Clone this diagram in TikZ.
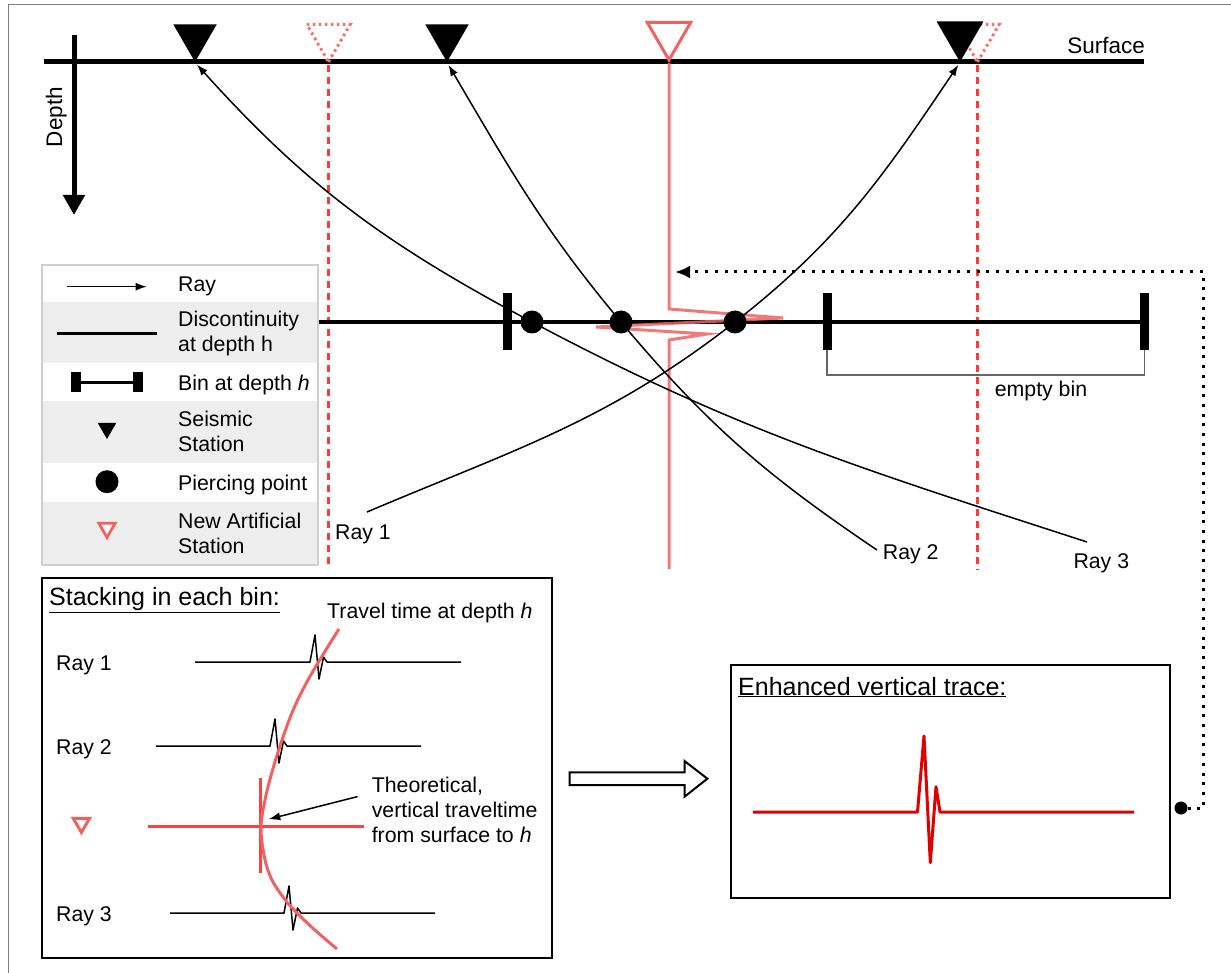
\documentclass[tikz,border=0pt]{standalone}
\usepackage{fontspec}
\setmainfont{Liberation Sans}
\usetikzlibrary{arrows.meta}
\usetikzlibrary{calc}
\usetikzlibrary{shapes.geometric}
\definecolor{salmon}{HTML}{F06262}
\definecolor{dashred}{HTML}{FF3838}
\definecolor{dotred}{HTML}{FF6B6B}
\definecolor{crossred}{HTML}{FF4040}
\definecolor{tracered}{HTML}{E00000}
\definecolor{rowgray}{HTML}{EEEEEE}
\definecolor{framegray}{HTML}{CFCFCF}
\newcommand{\figtxt}{\fontsize{21.3}{24.8}\selectfont}
\newcommand{\figttl}{\fontsize{25}{29}\selectfont}
\newcommand{\figsrf}{\fontsize{22.5}{26}\selectfont}
\tikzset{
	>=latex,
	lbl/.style={font=\figtxt, inner sep=0pt},
	ray/.style={line width=1.5pt, -{Latex[length=11pt,width=8pt]}},
	station/.style={regular polygon, regular polygon sides=3, shape border rotate=180, fill=black, minimum size=50pt, inner sep=0pt},
	newstation/.style={station, fill=white, draw=salmon, line width=3pt},
	ghost/.style={station, fill=none, draw=dotred, line width=3pt, dash pattern=on 2.5pt off 3.5pt},
	pierce/.style={circle, fill=black, minimum size=23pt, inner sep=0pt},
	binbar/.style={rectangle, fill=black, minimum width=9pt, minimum height=57pt, inner sep=0pt},
	vdash/.style={dashred, line width=3pt, dash pattern=on 7pt off 5pt},
	dotline/.style={line width=3pt, dash pattern=on 3pt off 6.7pt},
	wtrace/.style={line width=1.5pt, line join=round},
	boxframe/.style={draw, line width=2pt, inner sep=0pt, anchor=north west}
}
\begin{document}
\begin{tikzpicture}[x=1pt,y=1pt]
	%\draw[help lines] (0,0) grid (1231,-973);
	\useasboundingbox (0,0) rectangle (1231,-973);
	\draw[gray, line width=1pt] (8,-973) -- (8,-5) -- (1231,-5);

	% surface and depth
	\draw[line width=5pt] (43.5,-62) -- (1144,-62);
	\node[font=\figsrf, anchor=base east, inner sep=0pt] (surf) at (1145,-54) {Surface};
	\draw[line width=5pt, -{Triangle[length=20pt,width=21pt]}] (74,-35) -- (74,-215);
	\node[font=\figsrf, rotate=90, anchor=base, inner sep=0pt] (depth) at (62,-117) {Depth};

	% stations
	\node[ghost] (n1) at (328.5,-37) {};
	\node[ghost] (n2) at (977.5,-37) {};
	\draw[vdash] (n1.south) -- ++(0,-503);
	\draw[vdash] (n2.south) -- ++(0,-505);
	\node[station] (s1) at (195,-37) {};
	\node[station] (s2) at (447,-37) {};
	\node[station, minimum size=54pt] (s4) at (960,-35) {};
	\node[newstation] (ns) at (669,-35) {};

	% discontinuity and bins
	\draw[line width=4pt] (318,-322) -- (1147,-322);
	\node[binbar] (b1) at (507,-321.5) {};
	\node[binbar] (b2) at (827,-321.5) {};
	\node[binbar] (b3) at (1144.5,-321.5) {};
	\draw[black!60, line width=1.5pt] (b2.south) -- ++(0,-25) -| (b3.south);
	\node[lbl, anchor=base] (empty) at (1041,-396) {empty bin};

	\draw[salmon, line width=3pt, opacity=.85] (ns.south) -- (669,-309) -- (783,-318) -- (596,-327) -- (707,-334) -- (669,-340) -- (669,-569);

	% rays
	\node[pierce] (p1) at (532,-322) {};
	\node[pierce] (p2) at (621,-322) {};
	\node[pierce] (p3) at (735,-322) {};
	\coordinate (r1) at (367,-512);
	\coordinate (r2) at (877,-550);
	\coordinate (r3) at (1087,-542);
	\draw[ray, shorten >=3pt] (r1) to[out=23,in=-142] (p3.center) to[out=38,in=-124] (s4.south);
	\draw[ray, shorten >=3pt] (r2) to[out=146,in=-50] (p2.center) to[out=130,in=-59.5] (s2.south);
	\draw[ray, shorten >=3pt] (r3) to[out=162,in=-28] (p1.center) to[out=152,in=-48] (s1.south);
	\node[lbl, anchor=base west] (l1) at (335,-539.3) {Ray 1};
	\node[lbl, anchor=base west] (l2) at (882.7,-559.3) {Ray 2};
	\node[lbl, anchor=base west] (l3) at (1073.3,-568.3) {Ray 3};

	% legend
	\foreach \ya/\yb in {302/363, 401/463, 502/565}{
		\fill[rowgray] (42,-\ya) rectangle (318,-\yb);
	}
	\draw[framegray, line width=1.5pt] (42,-265) rectangle (318,-565);
	\draw[ray] (67,-286.7) -- (146.7,-286.7);
	\node[lbl, anchor=base west] (lg1) at (178,-291.7) {Ray};
	\draw[line width=3pt] (57,-334) -- (157,-334);
	\node[lbl, anchor=base west, align=left] (lg2) at (178,-351.7) {Discontinuity\\at depth h};
	\node[binbar, minimum width=10pt, minimum height=20pt] (lb1) at (75.7,-382) {};
	\node[binbar, minimum width=10pt, minimum height=20pt] (lb2) at (138,-382) {};
	\draw[line width=3pt] (lb1) -- (lb2);
	\node[lbl, anchor=base west] (lg3) at (178,-390) {Bin at depth \textit{h}};
	\node[station, minimum size=21.4pt] (ls) at (107,-428.3) {};
	\node[lbl, anchor=base west, align=left] (lg4) at (178,-451.7) {Seismic\\Station};
	\node[pierce] (lp) at (107,-481.7) {};
	\node[lbl, anchor=base west] (lg5) at (178,-490) {Piercing point};
	\node[newstation, minimum size=19pt, line width=2.8pt] (lns) at (107,-527.9) {};
	\node[lbl, anchor=base west, align=left] (lg6) at (178,-553.3) {New Artificial\\Station};

	% stacking box
	\node[boxframe, minimum width=510pt, minimum height=380pt] (stack) at (41,-577) {};
	\node[font=\figttl, anchor=base west, inner sep=0pt] (sttl) at (49,-605.5) {\underline{Stacking in each bin:}};
	\node[lbl, anchor=base west] (ttime) at (327,-618.3) {Travel time at depth \textit{h}};
	\foreach \i/\yy/\xa/\xw/\xb in {1/662/195/310/461, 2/746/156/270/421, 3/913/170/284/435}{
		\node[lbl, anchor=base west] (sr\i) at (56,-\yy-8) {Ray \i};
		\draw[wtrace] (\xa,-\yy) -- (\xw,-\yy) -- ++(5,27) -- ++(4,-44) -- ++(4.5,22) -- ++(3.5,-5) -- (\xb,-\yy);
	}
	\node[newstation, minimum size=19pt] (sns) at (81.4,-823) {};
	\coordinate (vt) at (260.3,-826.7);
	\draw[crossred, line width=3pt] (148.4,-826.7) -- (364,-826.7);
	\draw[crossred, line width=3pt] (260.3,-778) -- (260.3,-873);
	\draw[salmon, line width=3pt] plot[smooth, tension=0.6] coordinates {(339,-629) (324,-653) (308,-680) (294,-708) (282,-740) (272,-772) (265,-800) (261,-827) (264,-855) (271,-878) (283,-897) (297,-913) (316,-931) (337,-949)};
	\node[lbl, anchor=base west, align=left] (theo) at (371.6,-842.3) {Theoretical,\\vertical traveltime\\from surface to \textit{h}};
	\draw[line width=1.5pt, -{Latex[length=12pt,width=8pt]}] ($(theo.north west)+(-14,-19.5)$) -- ($(vt)+(8,7.4)$);

	% hollow arrow
	\draw[line width=2pt, fill=white] (569.5,-772.3) -- (684.5,-772.3) -- (684.5,-761) -- (707.4,-778.7) -- (684.5,-796.7) -- (684.5,-785) -- (569.5,-785) -- cycle;

	% enhanced trace box
	\node[boxframe, minimum width=439.5pt, minimum height=233pt] (enh) at (729.5,-664) {};
	\node[font=\figttl, anchor=base west, inner sep=0pt] (ettl) at (738,-695) {\underline{Enhanced vertical trace:}};
	\draw[tracered, line width=3pt, line join=round] (753,-812) -- (917.5,-812) -- (924,-736) -- (930.3,-862.7) -- (936,-786.7) -- (940,-812) -- (1134,-812);

	\node[circle, fill=black, minimum size=13pt, inner sep=0pt] (dot) at (1181,-808) {};
	\coordinate (arr) at (675,-272);
	\draw[dotline, -{Latex[length=15pt,width=13pt]}] (dot.east) -- ++(16,0) |- (arr);

\end{tikzpicture}
\end{document}
